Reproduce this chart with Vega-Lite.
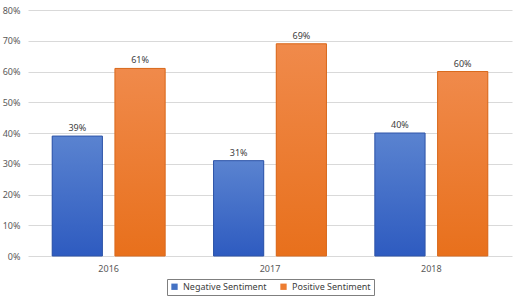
{
  "$schema": "https://vega.github.io/schema/vega-lite/v6.json",
  "width": 520,
  "height": 299,
  "autosize": {"type": "fit", "contains": "padding"},
  "padding": {"left": 2, "top": 6, "right": 8, "bottom": 3},
  "background": "white",
  "config": {
    "font": "Noto Sans",
    "view": {"stroke": null},
    "axis": {"labelFont": "Noto Sans", "labelColor": "#595959", "labelFontSize": 9},
    "legend": {"layout": {"bottom": {"anchor": "middle"}}}
  },
  "data": {"values": [
    {"year": "2016", "series": "Negative Sentiment", "value": 0.39},
    {"year": "2016", "series": "Positive Sentiment", "value": 0.61},
    {"year": "2017", "series": "Negative Sentiment", "value": 0.31},
    {"year": "2017", "series": "Positive Sentiment", "value": 0.69},
    {"year": "2018", "series": "Negative Sentiment", "value": 0.40},
    {"year": "2018", "series": "Positive Sentiment", "value": 0.60}
  ]},
  "encoding": {
    "x": {"field": "year", "type": "nominal", "title": null,
      "scale": {"paddingInner": 0.3, "paddingOuter": 0.15},
      "axis": {"labelAngle": 0, "domain": false, "ticks": false, "labelPadding": 8}},
    "xOffset": {"field": "series", "type": "nominal", "scale": {"paddingInner": 0.2}},
    "y": {"field": "value", "type": "quantitative", "title": null,
      "scale": {"domain": [0, 0.8]},
      "axis": {"format": ".0%", "values": [0,0.1,0.2,0.3,0.4,0.5,0.6,0.7,0.8], "labelOverlap": false, "domain": false, "ticks": false, "gridColor": "#D9D9D9", "labelPadding": 8}}
  },
  "layer": [
    {
      "mark": {"type": "bar"},
      "encoding": {
        "color": {"field": "series", "type": "nominal", "title": null,
          "scale": {"domain": ["Negative Sentiment", "Positive Sentiment"], "range": ["#4472C4", "#ED7D31"]},
          "legend": {"orient": "bottom", "direction": "horizontal", "symbolType": "square", "symbolSize": 40,
            "labelFontSize": 9, "labelColor": "#404040", "strokeColor": "#7F7F7F", "padding": 3, "offset": 6, "columnPadding": 12, "symbolStrokeWidth": 0}}
      }
    },
    {
      "transform": [{"filter": "datum.series === 'Negative Sentiment'"}],
      "mark": {"type": "bar", "stroke": "#2F55A8", "strokeWidth": 1,
        "color": {"gradient": "linear", "x1": 0, "y1": 0, "x2": 0, "y2": 1,
          "stops": [{"offset": 0, "color": "#5A83D0"}, {"offset": 1, "color": "#2E5BC0"}]}}
    },
    {
      "transform": [{"filter": "datum.series === 'Positive Sentiment'"}],
      "mark": {"type": "bar", "stroke": "#D96A1E", "strokeWidth": 1,
        "color": {"gradient": "linear", "x1": 0, "y1": 0, "x2": 0, "y2": 1,
          "stops": [{"offset": 0, "color": "#F08A4B"}, {"offset": 1, "color": "#E8701C"}]}}
    },
    {
      "mark": {"type": "text", "dy": -8, "fontSize": 9, "color": "#404040"},
      "encoding": {"text": {"field": "value", "type": "quantitative", "format": ".0%"}}
    }
  ]
}
